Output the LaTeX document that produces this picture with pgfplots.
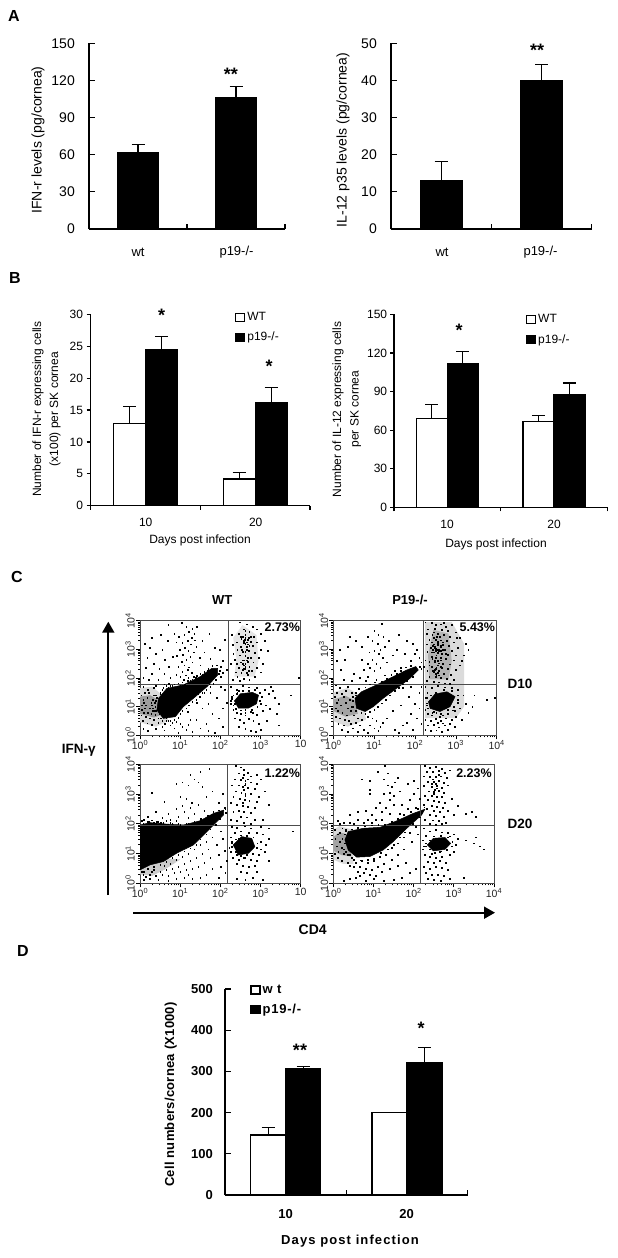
\documentclass[border=0pt]{standalone}
\usepackage{fontspec}
\setmainfont{Liberation Sans}
\usepackage{pgfplots}
\pgfplotsset{compat=1.18}
\usetikzlibrary{arrows.meta}
\newcommand\fs[1]{\fontsize{#1}{#1}\selectfont}
\pgfplotsset{
 barchart/.style={scale only axis,axis x line=bottom,axis y line=left,axis line style={-,line width=1.2pt},
  tick style={black,line width=1.2pt},xmin=0,xmax=2,xtick={0,1,2},xticklabels={},ymin=0,ybar=0pt,
  major tick length=5.5pt,/pgf/number format/assume math mode=true,anchor=south west,
  error bars/error bar style={line width=1.2pt,black},
  error bars/error mark options={line width=1.2pt,black,mark size=6.5pt,rotate=90},
  legend cell align=left,
  legend image code/.code={\draw[##1,line width=1.2pt] (0pt,-4pt) rectangle (9pt,4pt);}},
 errs/.style={error bars/.cd,y dir=plus,y explicit},
 facs/.style={scale only axis,anchor=south west,xmin=0,xmax=400,ymin=0,ymax=400,
  axis line style={draw=black!70,line width=1pt},tick style={black,line width=.7pt},
  xtick={0,100,200,300,400},ytick={0,100,200,300,400},xtick pos=bottom,ytick pos=left,tick align=outside,
  major tick length=4pt,minor tick length=2pt,
  minor xtick={30,48,60,70,78,85,90,95,130,148,160,170,178,185,190,195,230,248,260,270,278,285,290,295,330,348,360,370,378,385,390,395},
  minor ytick={30,48,60,70,78,85,90,95,130,148,160,170,178,185,190,195,230,248,260,270,278,285,290,295,330,348,360,370,378,385,390,395},
  yticklabels={10\textsuperscript{0},10\textsuperscript{1},10\textsuperscript{2},10\textsuperscript{3},10\textsuperscript{4}},
  tick label style={font=\fs{10.5},color=black!85},
  yticklabel style={rotate=90,anchor=south,inner sep=1pt},xticklabel style={inner sep=1pt}},
 dots/.style={only marks,mark=square*,mark size=.38pt,black,mark options={draw=none,fill=black}},
 blob/.style={fill=black,draw=black,line width=.5pt,no marks},
 haze/.style={fill=black!#1,draw=none,no marks},
 quad/.style={black!70,line width=1pt,no marks}
}
\newcommand\T[4][\fs{12}]{\node[font=#1,inner sep=0pt] at (#2pt,-#3pt) {#4};}
\newcommand\Y[4][\fs{12}]{\node[font=#1,inner sep=0pt,rotate=90] at (#2pt,-#3pt) {#4};}
\newcommand\Star[3]{\node[font=\fs{18}\bfseries,inner sep=0pt,anchor=base] at (#1pt,-#2pt-10pt) {#3};}
\begin{document}
\begin{tikzpicture}[x=1pt,y=1pt]
\useasboundingbox (0,0) rectangle (618,-1258);
\fill[white] (0,0) rectangle (618,-1258);
% ---------- A
\begin{axis}[barchart,at={(89pt,-229pt)},width=196pt,height=185.7pt,ymax=150,ytick={0,30,...,150},tick align=inside,
 tick label style={font=\fs{14}},yticklabel style={inner sep=0pt,xshift=-14pt},bar width=41pt]
\addplot[fill=black,draw=black,errs] coordinates {(0.5,62) +- (0,6) (1.5,106.4) +- (0,8.6)};
\end{axis}
\begin{axis}[barchart,at={(391pt,-229pt)},width=200.7pt,height=185.7pt,ymax=50,ytick={0,10,...,50},tick align=inside,
 tick label style={font=\fs{14}},yticklabel style={inner sep=0pt,xshift=-14pt},bar width=42pt]
\addplot[fill=black,draw=black,errs] coordinates {(0.5,13.1) +- (0,5) (1.5,40) +- (0,4.2)};
\end{axis}
\T[\fs{16}\bfseries]{14}{16}{A}
\Y[\fs{14}]{38}{140}{IFN-r levels (pg/cornea)}
\Y[\fs{14}]{343}{140}{IL-12 p35 levels (pg/cornea)}
\T[\fs{13}]{138}{252}{wt}\T[\fs{13}]{236.5}{252}{p19-/-}
\T[\fs{13}]{442}{252}{wt}\T[\fs{13}]{540.5}{252}{p19-/-}
\Star{231}{70}{**}\Star{537}{46}{**}
% ---------- B
\begin{axis}[barchart,at={(90.7pt,-505.7pt)},width=219.3pt,height=191.4pt,ymax=30,ytick={0,5,...,30},tick align=outside,major tick length=4pt,
 tick label style={font=\fs{12}},yticklabel style={inner sep=0pt,xshift=-3.5pt},bar width=32pt,
 legend style={at={(.658,1.022)},anchor=north west,draw=none,fill=none,inner sep=0pt,font=\fs{12},row sep=6pt}]
\addplot[fill=white,draw=black,line width=1.2pt,errs] coordinates {(0.5,12.9) +- (0,2.7) (1.5,4.2) +- (0,1)};
\addplot[fill=black,draw=black,line width=1.2pt,errs] coordinates {(0.5,24.4) +- (0,2.15) (1.5,16.15) +- (0,2.4)};
\legend{WT,p19-/-}
\end{axis}
\begin{axis}[barchart,at={(394pt,-507.3pt)},width=213.3pt,height=193pt,ymax=150,ytick={0,30,...,150},tick align=outside,major tick length=4pt,
 tick label style={font=\fs{12}},yticklabel style={inner sep=0pt,xshift=-2.7pt},bar width=31pt,
 legend style={at={(.618,1.01)},anchor=north west,draw=none,fill=none,inner sep=0pt,font=\fs{12},row sep=6pt}]
\addplot[fill=white,draw=black,line width=1.2pt,errs] coordinates {(0.5,68.9) +- (0,10.8) (1.5,66.5) +- (0,5)};
\addplot[fill=black,draw=black,line width=1.2pt,errs] coordinates {(0.5,111.6) +- (0,9.3) (1.5,87.3) +- (0,9.3)};
\legend{WT,p19-/-}
\end{axis}
\T[\fs{16}\bfseries]{15}{278}{B}
\Y{38}{409}{Number of IFN-r expressing cells}
\Y{55}{409}{(x100) per SK cornea}
\Y{338}{409.5}{Number of IL-12 expressing cells}
\Y{355.7}{409}{per SK cornea}
\T{145.7}{522}{10}\T{255.7}{522}{20}\T{200}{540.7}{Days post infection}
\T{447}{524.3}{10}\T{554}{524.3}{20}\T{496}{544}{Days post infection}
\Star{161.7}{311.7}{*}\Star{269}{362.3}{*}\Star{459}{326}{*}
% ---------- C
\begin{axis}[facs,at={(140pt,-735.3pt)},width=160.7pt,height=114.6pt,
 xticklabels={10\textsuperscript{0},10\textsuperscript{1},10\textsuperscript{2},10\textsuperscript{3},10}]
\addplot[haze=14] coordinates {(0,45)(40,30)(70,50)(60,135)(30,170)(0,165)} --cycle;
\addplot[haze=38] coordinates {(0,75)(35,62)(50,70)(50,120)(25,140)(0,135)} --cycle;
\addplot[haze=10] coordinates {(235,205)(285,205)(295,260)(290,350)(255,385)(232,340)(240,270)} --cycle;
\addplot[blob] coordinates {(46,129)(67,164)(108,176)(150,205)(179,234)(193,234)(193,210)(167,170)(133,129)(108,100)(88,65)(58,59)(42,88)} --cycle;
\addplot[blob] coordinates {(235,120)(250,145)(280,150)(295,140)(290,110)(270,95)(245,95)} --cycle;
\addplot[quad] coordinates {(221,0)(221,400)};
\addplot[quad] coordinates {(0,179)(400,179)};
\addplot[dots] coordinates {(103,392)(70,385)(115,380)(130,372)(122,362)(135,355)(110,350)(128,340)(137,332)(96,345)(118,330)(105,322)(127,318)(90,325)(140,310)(112,305)(120,295)(98,300)(133,290)(107,282)(125,275)(92,278)(115,265)(103,258)(130,255)(110,245)(122,238)(95,240)(118,228)(105,222)(128,218)(113,210)(100,205)(120,200)(90,212)(134,205)(108,195)(125,190)(12,320)(25,305)(40,285)(18,270)(55,300)(62,265)(35,250)(48,232)(15,235)(72,240)(82,275)(30,215)(60,215)(22,195)(45,195)(75,200)(8,200)(150,245)(165,215)(180,230)(195,215)(205,260)(185,305)(210,335)(172,355)(155,330)(160,290)(198,300)(215,230)(142,380)(85,355)(52,350)(68,330)(30,340)(148,270)(175,268)
(248,395)(265,388)(280,380)(258,370)(272,362)(290,370)(245,355)(262,350)(283,345)(300,355)(252,338)(268,335)(276,328)(240,325)(258,322)(290,325)(310,330)(230,315)(250,310)(265,308)(280,312)(300,300)(242,298)(256,292)(270,295)(285,288)(318,295)(232,285)(248,280)(262,278)(275,270)(295,270)(235,265)(255,262)(268,258)(282,255)(305,250)(240,250)(258,245)(272,240)(290,235)(245,235)(262,232)(278,225)(300,220)(238,220)(252,218)(268,212)(285,205)(242,205)(258,198)(272,195)(248,190)(230,195)(225,250)(228,350)(262,365)(275,345)(265,325)(260,335)(272,312)(262,292)(268,270)(270,225)(262,240)(258,232)(265,218)(255,228)
(225,170)(240,160)(255,172)(270,168)(290,165)(310,160)(325,170)(240,145)(228,135)(225,120)(235,110)(232,90)(240,80)(250,75)(262,70)(275,82)(290,72)(305,85)(322,92)(335,130)(345,110)(320,145)(330,155)(248,55)(258,45)(270,58)(282,50)(295,40)(245,30)(262,22)(275,15)(288,12)(300,20)(235,60)(245,100)(312,105)(340,75)(375,140)(395,200)(345,35)(315,52)
(3,140)(8,125)(5,105)(12,95)(18,130)(22,148)(10,80)(28,115)(32,85)(15,65)(25,60)(38,100)(42,130)(48,75)(55,120)(60,95)(35,55)(6,50)(45,45)(52,60)(65,60)(70,50)(80,45)(62,40)(75,35)(90,48)(100,40)(55,30)(30,38)(18,42)(40,22)(60,18)(85,25)(105,30)(120,38)(125,55)(140,55)(115,20)(130,12)(150,25)(165,40)(20,15)(8,22)(95,10)(170,15)(185,8)(205,30)(195,60)(180,75)(205,95)(215,115)(190,130)(170,110)(155,95)(175,150)(210,160)(200,170)(145,145)(15,105)(25,95)(35,140)(50,145)(12,150)(20,160)(35,165)(55,160)(70,165)(40,172)(80,172)(100,175)(8,170)(45,110)(58,70)(28,75)(40,85)(50,105)(20,80)(32,125)(60,135)(66,150)(10,115)(4,90)(3,70)(48,92)(55,50)
(40,140)(50,150)(58,165)(65,172)(75,172)(85,178)(95,182)(105,185)(118,190)(130,196)(142,208)(150,215)(160,222)(170,232)(180,242)(190,245)(200,240)(198,225)(205,218)(72,180)(60,178)(112,178)(125,188)(138,200)(155,212)(168,225)
(200,205)(188,195)(182,180)(175,170)(165,160)(155,150)(148,135)(140,125)(130,118)(122,105)(115,95)(105,85)(100,75)(95,62)(85,55)(75,50)(65,50)(55,52)(45,60)(38,72)(35,85)(38,100)(30,105)(36,115)(40,122)(32,95)(172,178)(160,150)(142,115)(118,82)
(228,128)(232,105)(238,92)(250,88)(262,90)(278,90)(292,100)(298,120)(302,135)(298,150)(285,158)(270,155)(255,155)(242,150)(232,140)(225,110)(300,110)(262,80)(280,80)(245,155)
(258,262)(262,250)(266,262)(255,250)(250,255)(262,320)(268,318)(258,330)(262,342)(270,340)(256,345)(250,345)(266,300)(254,300)};
\end{axis}
\begin{axis}[facs,at={(333.3pt,-735.3pt)},width=163.4pt,height=114.6pt,
 xticklabels={10\textsuperscript{0},10\textsuperscript{1},10\textsuperscript{2},10\textsuperscript{3},10\textsuperscript{4}}]
\addplot[haze=14] coordinates {(0,50)(35,30)(80,55)(70,135)(35,165)(0,150)} --cycle;
\addplot[haze=36] coordinates {(0,85)(30,65)(60,75)(55,120)(30,138)(0,125)} --cycle;
\addplot[haze=14] coordinates {(225,60)(300,60)(320,100)(320,180)(320,320)(290,395)(225,395)} --cycle;
\addplot[haze=30] coordinates {(235,195)(282,195)(290,260)(282,355)(245,368)(232,280)} --cycle;
\addplot[blob] coordinates {(53,129)(69,152)(106,176)(147,205)(180,228)(202,240)(208,228)(188,199)(155,164)(122,129)(98,100)(78,83)(57,94)} --cycle;
\addplot[blob] coordinates {(233,117)(249,144)(278,152)(298,135)(286,100)(261,83)(237,94)} --cycle;
\addplot[quad] coordinates {(220,0)(220,400)};
\addplot[quad] coordinates {(0,179)(400,179)};
\addplot[dots] coordinates {(55,330)(40,345)(35,310)(15,300)(8,260)(28,265)(18,230)(50,215)(70,310)(85,345)(100,365)(110,350)(118,390)(122,345)(95,330)(108,320)(115,300)(125,310)(135,330)(88,290)(100,295)(112,285)(120,270)(95,265)(85,250)(105,250)(90,235)(100,225)(115,235)(75,230)(130,255)(65,200)(45,190)(25,195)(85,205)(105,195)(125,210)(150,225)(165,235)(180,330)(195,320)(205,300)(200,285)(190,260)(175,285)(210,270)(160,350)(145,280)(155,300)(215,255)(70,265)(80,190)(135,195)
(225,395)(240,392)(250,385)(262,388)(275,380)(290,385)(232,370)(248,372)(265,368)(280,365)(300,360)(228,355)(242,350)(255,355)(270,350)(285,345)(310,340)(235,335)(250,335)(262,332)(278,330)(295,325)(325,320)(228,318)(245,318)(255,315)(268,315)(282,312)(305,305)(238,305)(250,303)(258,300)(272,298)(290,295)(230,292)(245,290)(255,288)(265,285)(280,282)(300,280)(240,275)(250,272)(262,270)(275,268)(295,262)(225,262)(235,258)(248,255)(258,252)(268,250)(285,248)(310,245)(240,240)(252,238)(265,235)(280,232)(300,228)(230,225)(245,222)(256,218)(270,215)(288,212)(235,205)(250,205)(262,200)(278,198)(295,195)(228,190)(245,188)(258,185)(272,182)(285,180)(222,240)(255,328)(248,310)(258,295)(252,280)(262,262)(255,245)(248,228)(250,215)(240,325)(244,300)(268,325)(260,345)(320,280)(315,260)(330,300)(302,340)(270,392)(245,360)(262,312)(275,285)(235,245)
(225,170)(240,165)(255,172)(272,168)(290,165)(305,160)(230,150)(225,130)(228,105)(225,90)(232,75)(240,70)(252,78)(268,70)(280,75)(298,85)(310,95)(305,125)(318,140)(325,110)(330,78)(225,55)(238,50)(250,58)(262,50)(275,60)(290,55)(300,65)(232,35)(245,38)(258,28)(272,35)(285,40)(298,30)(238,15)(252,18)(265,12)(280,20)(225,20)(315,55)(345,140)(375,125)(395,130)(340,100)(260,65)(255,45)(268,42)
(3,135)(8,115)(5,95)(12,125)(18,105)(25,135)(30,115)(35,95)(40,125)(10,85)(22,80)(32,70)(45,100)(15,60)(28,55)(38,50)(50,70)(60,60)(42,40)(55,45)(70,55)(85,65)(95,60)(105,50)(65,35)(25,35)(12,40)(5,65)(48,25)(75,20)(90,35)(100,25)(120,45)(20,20)(35,12)(60,12)(85,10)(110,15)(115,30)(150,20)(170,35)(130,60)(145,85)(165,105)(185,135)(200,110)(210,95)(190,75)(205,60)(215,40)(180,45)(160,10)(195,20)(210,150)(215,170)(190,170)(170,165)(8,150)(15,165)(30,155)(45,150)(35,170)(5,175)(55,140)(20,145)(48,122)(58,110)(42,85)
(48,135)(55,148)(62,162)(78,168)(90,178)(102,185)(118,188)(130,198)(142,212)(155,215)(165,225)(178,238)(190,242)(212,240)(215,232)(200,220)(195,205)(180,190)(170,178)(160,165)(150,155)(138,140)(128,125)(118,112)(108,100)(100,90)(90,82)(78,75)(68,78)(55,85)(48,100)
(228,112)(232,95)(245,82)(262,76)(280,90)(295,100)(305,115)(305,140)(290,155)(270,158)(250,150)(238,140)(228,130)(242,78)(292,88)
(248,305)(255,298)(262,308)(250,295)(244,312)(256,322)(248,260)(256,260)(262,240)(250,232)(258,225)(244,225)(252,208)(258,210)(246,340)(254,345)(262,296)(240,290)(268,300)(242,268)};
\end{axis}
\begin{axis}[facs,at={(140pt,-883.3pt)},width=160.7pt,height=119pt,
 xticklabels={10\textsuperscript{0},10\textsuperscript{1},10\textsuperscript{2},10\textsuperscript{3},10}]
\addplot[haze=20] coordinates {(0,30)(30,25)(60,45)(100,80)(50,85)(0,70)} --cycle;
\addplot[blob] coordinates {(0,196)(25,204)(66,199)(108,196)(149,210)(183,235)(208,246)(208,230)(191,207)(158,162)(133,129)(91,101)(58,73)(25,62)(0,45)} --cycle;
\addplot[blob] coordinates {(232,129)(253,157)(278,151)(286,123)(270,101)(245,95)} --cycle;
\addplot[quad] coordinates {(217,0)(217,400)};
\addplot[quad] coordinates {(0,196)(400,196)};
\addplot[dots] coordinates {(172,385)(150,375)(125,365)(105,340)(90,335)(120,330)(135,350)(145,340)(155,325)(100,290)(115,285)(128,270)(105,260)(125,255)(145,265)(165,290)(180,310)(205,300)(195,270)(210,255)(30,305)(60,275)(90,250)(70,235)(40,240)(110,240)(135,235)(160,245)(185,225)(95,225)(55,220)(20,225)(10,215)(75,215)(120,220)(150,215)(30,212)(45,208)(65,210)(90,210)(5,210)(18,208)(35,205)(52,203)(75,203)(95,200)(115,200)
(238,395)(250,390)(258,382)(268,372)(245,370)(258,365)(275,360)(290,365)(235,350)(250,348)(262,345)(275,340)(290,335)(300,350)(228,330)(245,330)(255,325)(268,322)(285,318)(310,310)(238,310)(252,305)(262,302)(275,300)(295,290)(232,290)(248,285)(260,282)(272,278)(290,275)(320,265)(225,270)(240,265)(255,262)(268,258)(285,255)(245,245)(258,240)(275,238)(232,240)(250,225)(265,222)(285,215)(305,215)(240,210)(258,205)(275,200)(225,215)(262,335)(258,315)(262,295)(255,272)(260,330)(255,355)(268,350)
(228,190)(240,188)(260,192)(275,185)(300,190)(320,185)(235,170)(250,175)(290,170)(305,165)(225,155)(228,140)(300,140)(312,130)(222,120)(225,105)(310,105)(295,95)(230,85)(245,80)(260,85)(275,80)(290,75)(240,65)(255,60)(270,55)(285,60)(250,40)(265,35)(240,15)(262,12)(280,18)(305,12)(290,40)(380,175)(320,75)(240,130)(300,115)(320,150)(255,120)(270,170)
(60,60)(75,65)(90,80)(105,90)(120,100)(135,115)(150,130)(165,140)(180,155)(200,175)(205,150)(190,130)(170,115)(155,100)(140,85)(125,75)(110,65)(95,55)(80,50)(65,45)(50,40)(35,45)(20,50)(10,40)(25,30)(40,25)(55,30)(70,25)(85,35)(100,40)(115,45)(130,50)(145,55)(160,70)(175,85)(195,95)(210,110)(215,75)(200,55)(180,50)(165,30)(150,20)(130,15)(110,20)(90,15)(70,10)(45,12)(25,15)(10,12)(120,30)(195,20)(212,35)(8,30)(15,22)(30,38)
(8,202)(22,208)(42,206)(58,204)(80,200)(100,198)(120,202)(135,208)(152,216)(168,228)(182,240)(195,246)(212,250)(214,238)(198,218)(188,198)(175,182)(165,165)(150,148)(140,130)(125,118)(110,108)(95,95)(80,85)(65,72)(50,62)(35,55)(18,48)(5,38)
(228,122)(238,105)(250,92)(265,95)(280,100)(290,120)(292,135)(282,155)(265,160)(250,162)(238,148)(228,135)(245,150)(258,85)(240,95)};
\end{axis}
\begin{axis}[facs,at={(333.3pt,-883.3pt)},width=160.7pt,height=119pt,
 xticklabels={10\textsuperscript{0},10\textsuperscript{1},10\textsuperscript{2},10\textsuperscript{3},10\textsuperscript{4}}]
\addplot[haze=14] coordinates {(0,80)(25,65)(50,65)(50,180)(15,192)(0,180)} --cycle;
\addplot[haze=36] coordinates {(0,110)(20,95)(45,90)(45,160)(15,172)(0,155)} --cycle;
\addplot[blob] coordinates {(37,174)(75,185)(116,188)(158,210)(199,235)(228,249)(220,230)(183,185)(149,140)(124,112)(91,90)(58,88)(37,112)(29,146)} --cycle;
\addplot[blob] coordinates {(234,129)(249,151)(278,154)(292,134)(278,114)(249,109)} --cycle;
\addplot[quad] coordinates {(217,0)(217,400)};
\addplot[quad] coordinates {(0,196)(400,196)};
\addplot[dots] coordinates {(128,395)(110,375)(135,370)(125,350)(70,350)(90,345)(135,330)(145,325)(152,340)(160,355)(90,315)(90,300)(125,300)(140,305)(150,295)(165,310)(185,335)(200,345)(210,320)(200,300)(215,285)(190,280)(140,280)(115,270)(105,255)(130,255)(150,265)(170,265)(185,250)(205,255)(120,240)(140,235)(165,235)(95,230)(80,245)(60,240)(40,230)(60,215)(25,205)(10,210)(85,215)(105,215)(120,215)(40,205)(75,205)(95,205)(15,200)(50,200)
(228,395)(240,388)(255,392)(270,385)(232,375)(248,375)(262,378)(278,372)(290,380)(225,360)(240,358)(255,358)(268,360)(282,355)(235,342)(250,342)(262,345)(275,338)(225,328)(245,325)(258,328)(270,322)(285,330)(238,310)(250,308)(262,312)(275,305)(228,295)(245,295)(258,292)(270,290)(235,280)(250,278)(262,275)(278,270)(295,285)(225,265)(245,262)(258,258)(272,255)(232,250)(250,245)(265,240)(285,245)(240,230)(255,228)(275,225)(228,215)(248,212)(262,210)(280,205)(240,200)(255,198)(270,200)(330,235)(345,240)(355,225)(300,230)(310,260)(255,335)(252,315)(248,350)(258,320)(244,335)(250,300)(262,365)
(225,185)(240,175)(255,180)(270,172)(285,170)(300,165)(230,160)(222,145)(290,158)(310,150)(330,145)(350,135)(365,125)(375,115)(355,155)(305,130)(222,115)(228,95)(240,90)(255,85)(270,90)(290,95)(235,72)(250,70)(265,75)(280,70)(225,55)(240,50)(255,55)(270,52)(285,45)(230,35)(245,30)(260,28)(275,25)(235,15)(250,12)(268,10)(290,15)(325,20)(300,105)(265,105)(245,100)(225,125)
(3,180)(10,165)(5,150)(15,140)(8,125)(20,120)(28,135)(12,105)(25,100)(35,95)(45,85)(55,70)(70,75)(85,70)(100,75)(115,90)(130,95)(145,120)(160,135)(175,155)(190,170)(205,190)(210,165)(195,140)(175,115)(160,95)(145,80)(125,65)(110,55)(95,45)(80,50)(65,55)(50,55)(35,70)(20,75)(10,85)(40,60)(60,40)(75,35)(90,30)(105,25)(120,40)(140,50)(160,60)(180,70)(205,50)(190,35)(170,20)(150,12)(125,10)(100,15)(80,10)(55,20)(40,15)(25,10)(65,25)(3,100)(15,170)(22,185)(30,175)
(30,180)(45,182)(60,188)(78,192)(95,195)(112,196)(128,198)(145,208)(160,218)(175,230)(192,240)(210,250)(226,256)(215,222)(198,200)(178,172)(165,155)(150,130)(135,115)(118,102)(100,82)(85,80)(68,78)(50,80)(40,95)(30,105)(25,115)(22,150)(28,165)
(230,125)(240,115)(252,104)(268,108)(282,112)(295,125)(296,140)(285,155)(268,160)(250,158)(240,145)(230,135)};
\end{axis}
\T[\fs{16}\bfseries]{17}{577}{C}
\T[\fs{13}\bfseries]{222.3}{600}{WT}\T[\fs{13}\bfseries]{410}{600}{P19-/-}
\T[\fs{12.5}\bfseries]{282.3}{627.3}{2.73\%}\T[\fs{12.5}\bfseries]{477.3}{627.3}{5.43\%}
\T[\fs{12.5}\bfseries]{282.3}{773.3}{1.22\%}\T[\fs{12.5}\bfseries]{474}{773.3}{2.23\%}
\T[\fs{13.5}\bfseries]{520}{684.3}{D10}\T[\fs{13.5}\bfseries]{520}{824.3}{D20}
\T[\fs{13.5}\bfseries]{78.7}{750}{IFN-γ}\T[\fs{14}\bfseries]{312.7}{929.3}{CD4}
\draw[line width=1.8pt,-{Triangle[length=11pt,width=12pt]}] (108.3,-895)--(108.3,-621.7);
\draw[line width=1.8pt,-{Triangle[length=11pt,width=12pt]}] (133.3,-912.7)--(495,-912.7);
% ---------- D
\begin{axis}[barchart,at={(225pt,-1195pt)},width=242.7pt,height=206pt,ymax=500,ytick={0,100,...,500},tick align=inside,
 tick label style={font=\fs{13}\bfseries},yticklabel style={inner sep=0pt,xshift=-12pt},bar width=35pt,
 legend style={at={(.104,1.03)},anchor=north west,draw=none,fill=none,inner sep=0pt,font=\fs{13}\bfseries\addfontfeatures{LetterSpace=6},row sep=5pt}]
\addplot[fill=white,draw=black,line width=1.2pt,errs] coordinates {(0.5,145.6) +- (0,18.4) (1.5,199.8) +- (0,0)};
\addplot[fill=black,draw=black,line width=1.2pt,errs] coordinates {(0.5,306.6) +- (0,5.4) (1.5,322) +- (0,35.6)};
\legend{w t,p19-/-}
\end{axis}
\T[\fs{16}\bfseries]{23}{951}{D}
\Y[\fs{13}\bfseries\addfontfeatures{LetterSpace=2}]{170.7}{1094.5}{Cell numbers/cornea (X1000)}
\T[\fs{13}\bfseries]{285.7}{1214.3}{10}\T[\fs{13}\bfseries]{406.7}{1214.3}{20}
\T[\fs{13}\bfseries\addfontfeatures{LetterSpace=8.5}]{350}{1241}{Days post infection}
\Star{300}{1046.7}{**}\Star{421}{1024.3}{*}
\end{tikzpicture}
\end{document}
